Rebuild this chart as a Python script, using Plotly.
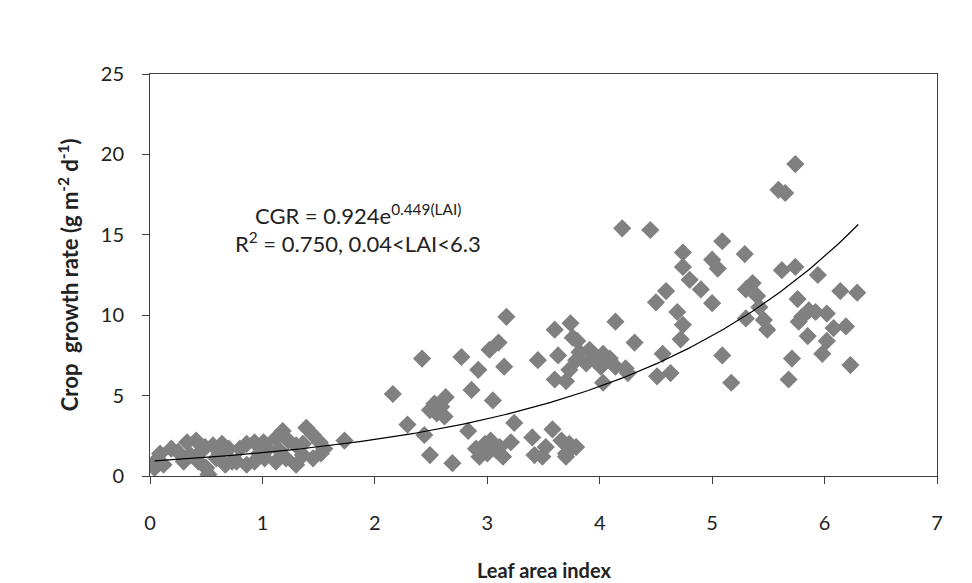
import numpy as np
import plotly.graph_objects as go

# Leaf area index (x) and crop growth rate (y)
lai = [0.04, 0.09, 0.19, 0.12, 0.06, 0.25, 0.33, 0.41, 0.49, 0.36, 0.43, 0.50, 0.52, 0.30, 0.45,
       0.56, 0.64, 0.70, 0.59, 0.67, 0.73, 0.62, 0.80, 0.86, 0.93, 0.77, 0.86, 0.93, 0.97,
       1.01, 1.05, 1.02, 1.12, 1.18, 1.23, 1.30, 1.12, 1.21, 1.30, 1.15,
       1.39, 1.45, 1.51, 1.55, 1.36, 1.36, 1.45, 1.52, 1.73,
       2.16, 2.29, 2.42, 2.44, 2.49, 2.53, 2.49, 2.63, 2.59, 2.62, 2.55, 2.69, 2.77, 2.83, 2.86,
       2.92, 3.05, 3.02, 3.10, 3.17, 3.15, 3.24, 3.21, 2.90, 2.98, 3.03, 3.08, 3.14, 2.93, 3.00, 3.11,
       3.40, 3.42, 3.45, 3.49, 3.52, 3.58, 3.66, 3.70, 3.70, 3.73, 3.79,
       3.60, 3.74, 3.63, 3.80, 3.82, 3.79, 3.88, 3.73, 3.91, 3.97, 4.03, 4.09, 4.01, 4.14, 4.23,
       3.60, 3.70, 4.03, 4.25, 3.76, 4.14, 4.31, 4.56, 4.51, 4.63,
       4.20, 4.45, 4.74, 4.74, 4.80, 4.59, 4.50, 4.69, 4.74, 4.72,
       5.09, 5.29, 5.00, 5.05, 5.62, 5.74, 5.94, 6.14, 6.29, 5.36, 5.30, 5.40, 5.42, 5.76, 4.90,
       5.00, 5.30, 5.46, 5.49, 5.80, 5.92, 6.02, 5.86, 5.77, 6.08, 6.19, 5.85, 6.02, 5.98, 5.09,
       5.71, 6.23, 5.17, 5.68, 5.74, 5.59, 5.65]
cgr = [0.5, 1.4, 1.7, 0.7, 1.0, 1.5, 2.1, 2.2, 1.8, 1.3, 0.9, 0.5, 0.1, 0.9, 1.5,
       1.9, 2.0, 1.7, 1.1, 0.7, 0.9, 1.4, 1.7, 2.0, 2.1, 0.9, 0.7, 0.9, 1.4,
       2.1, 1.7, 1.1, 2.35, 2.8, 2.2, 1.9, 0.9, 1.1, 0.7, 1.6,
       3.0, 2.55, 2.1, 1.7, 2.0, 1.3, 1.1, 1.4, 2.2,
       5.1, 3.2, 7.3, 2.55, 1.3, 4.5, 4.1, 4.9, 4.3, 3.7, 3.9, 0.8, 7.4, 2.8, 5.35,
       6.6, 4.7, 7.85, 8.3, 9.9, 6.8, 3.3, 2.1, 1.7, 2.0, 2.2, 1.6, 1.2, 1.2, 1.4, 1.8,
       2.4, 1.3, 7.2, 1.2, 1.8, 2.9, 2.2, 1.2, 1.4, 2.0, 1.8,
       9.1, 9.5, 7.5, 8.4, 7.7, 7.2, 7.0, 6.6, 7.85, 7.4, 7.6, 7.3, 6.8, 6.8, 6.7,
       6.0, 5.9, 5.8, 6.4, 8.6, 9.6, 8.3, 7.6, 6.2, 6.4,
       15.4, 15.3, 13.9, 13.0, 12.2, 11.5, 10.8, 10.2, 9.4, 8.5,
       14.6, 13.8, 13.45, 12.9, 12.8, 13.0, 12.5, 11.5, 11.4, 12.0, 11.6, 11.2, 10.5, 11.0, 11.6,
       10.75, 9.8, 9.7, 9.1, 9.9, 10.2, 10.1, 10.3, 9.6, 9.2, 9.3, 8.7, 8.4, 7.6, 7.5,
       7.3, 6.9, 5.8, 6.0, 19.4, 17.8, 17.6]

# Fitted trend: CGR = 0.924 e^(0.449 LAI), 0.04 < LAI < 6.3
fit_a = 0.924
fit_b = 0.449
fit_lai = np.linspace(0.04, 6.3, 200)
fit_cgr = fit_a * np.exp(fit_b * fit_lai)

x_ticks = [0, 1, 2, 3, 4, 5, 6, 7]
y_ticks = [0, 5, 10, 15, 20, 25]

FONT = "Lato"

fig = go.Figure()
fig.add_trace(go.Scatter(x=lai, y=cgr, mode="markers",
                         marker=dict(symbol="diamond", size=14, color="#808080",
                                     line=dict(width=0)),
                         showlegend=False, hoverinfo="skip"))
fig.add_trace(go.Scatter(x=fit_lai, y=fit_cgr, mode="lines",
                         line=dict(color="black", width=1.2),
                         showlegend=False, hoverinfo="skip"))

axis_common = dict(showgrid=False, zeroline=False, showline=True, linecolor="#404040",
                   linewidth=1, mirror=True, ticks="outside", ticklen=7, tickwidth=1,
                   tickcolor="#404040",
                   tickfont=dict(family=FONT, size=20, color="#222222"))

fig.update_xaxes(range=[0, 7], tickvals=x_ticks, ticklabelstandoff=22, **axis_common)
fig.update_yaxes(range=[0, 25], tickvals=y_ticks, ticklabelstandoff=14, **axis_common)

fig.add_annotation(xref="paper", yref="paper", x=-0.104, y=0.5, textangle=-90,
                   text="<b>Crop\u00a0 growth rate (g m<sup>-2</sup> d<sup>-1</sup>)</b>",
                   showarrow=False, font=dict(family=FONT, size=22, color="#222222"),
                   xanchor="center", yanchor="middle")
fig.add_annotation(xref="paper", yref="paper", x=0.5, y=-0.234,
                   text="<b>Leaf area index</b>",
                   showarrow=False, font=dict(family=FONT, size=20, color="#222222"),
                   xanchor="center", yanchor="middle")
fig.add_annotation(x=1.85, y=16.25, text="CGR = 0.924e<sup>0.449(LAI)</sup>",
                   showarrow=False, font=dict(family=FONT, size=22, color="#222222"),
                   xanchor="center", yanchor="middle")
fig.add_annotation(x=1.85, y=14.5, text="R<sup>2</sup> = 0.750, 0.04<LAI<6.3",
                   showarrow=False, font=dict(family=FONT, size=22, color="#222222"),
                   xanchor="center", yanchor="middle")

fig.update_layout(width=972, height=583, paper_bgcolor="white", plot_bgcolor="white",
                  margin=dict(l=150, r=35, t=74, b=107, autoexpand=False))

fig.write_html("out.html")
